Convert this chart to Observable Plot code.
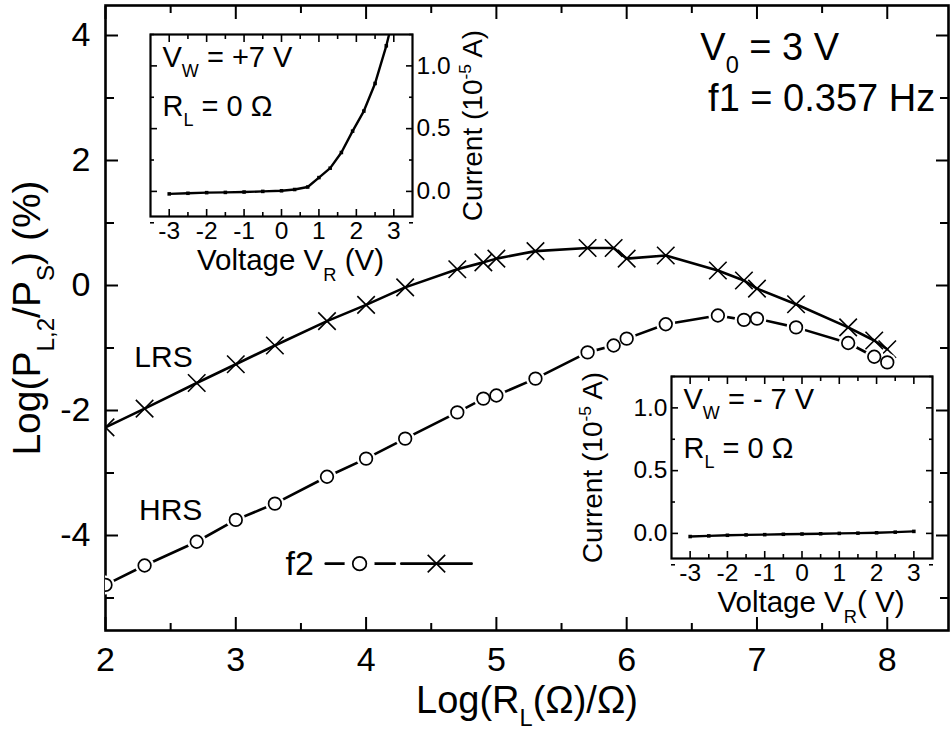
<!DOCTYPE html>
<html><head><meta charset="utf-8">
<script src="https://cdn.jsdelivr.net/npm/d3@7"></script>
<script src="https://cdn.jsdelivr.net/npm/@observablehq/plot@0.6"></script>
<style>
html,body{margin:0;padding:0;background:#fff;}
#chart{position:relative;width:951px;height:744px;overflow:hidden;}
#chart svg{position:absolute;overflow:visible;}
</style></head><body><div id="chart"></div>
<script>
// ---- main chart data: Log(R_L) vs Log(P_L,2/P_S)
const logRL = [2,2.3,2.7,3,3.3,3.7,4,4.3,4.7,4.9,5,5.3,5.7,5.9,6,6.3,6.7,6.9,7,7.3,7.7,7.9,8];
const lrsValues = [-2.27,-1.97,-1.56,-1.26,-0.96,-0.57,-0.31,-0.03,0.26,0.37,0.43,0.55,0.60,0.60,0.43,0.48,0.24,0.08,-0.05,-0.30,-0.67,-0.88,-1.02];
const hrsValues = [-4.79,-4.48,-4.10,-3.75,-3.49,-3.06,-2.77,-2.45,-2.03,-1.81,-1.76,-1.49,-1.07,-0.96,-0.85,-0.62,-0.48,-0.55,-0.53,-0.67,-0.92,-1.14,-1.23];
const xMajor = [2,3,4,5,6,7,8];
const xMinor = [2.5,3.5,4.5,5.5,6.5,7.5];
const yMajor = [-4,-2,0,2,4];
const yMinor = [-5,-3,-1,1,3];
// ---- inset 1 (V_W = +7 V)
const vPos = [-3,-2.5,-2,-1.5,-1,-0.5,0,0.35,0.7,1.0,1.3,1.6,1.9,2.2,2.5,2.8,3.0];
const iPos = [-0.02,-0.015,-0.01,-0.008,-0.005,0,0.005,0.015,0.035,0.11,0.185,0.31,0.48,0.64,0.86,1.16,1.40];
// ---- inset 2 (V_W = -7 V)
const vNeg = [-3,-2.5,-2,-1.5,-1,-0.5,0,0.5,1,1.5,2,2.5,3];
const iNeg = [-0.025,-0.02,-0.015,-0.012,-0.01,-0.007,-0.005,-0.003,0,0.002,0.005,0.01,0.016];
const insetXMajor = [-3,-2,-1,0,1,2,3];
const insetXMinor = [-2.5,-1.5,-0.5,0.5,1.5,2.5];
const insetYMajor = [0,0.5,1.0];
const insetYMinor = [-0.25,0.25,0.75,1.25];
// ---- annotations (data units)
const stateLabels = [{x:2.445,y:-1.15,t:"LRS"},{x:2.5,y:-3.6,t:"HRS"}];
const condLabels = [{x:6.565,y:3.81,t:"V_{0} = 3 V"},{x:6.625,y:2.99,t:"f1 = 0.357 Hz"}];
const legendText = {x:3.49, y:-4.45, t:"f2"};
const legendCircleSeg = [3.69, 4.22], legendCircleAt = 3.95;
const legendCrossSeg = [4.27, 4.81], legendCrossAt = 4.54;

const FONT = '"Liberation Sans", Arial, Helvetica, sans-serif';
const lrs = logRL.map((x,i)=>({x, y: lrsValues[i]}));
const hrs = logRL.map((x,i)=>({x, y: hrsValues[i]}));
const legY = legendText.y;
const legLines = [
  ...legendCircleSeg.map(x=>({x, y:legY, s:"c"})),
  ...legendCrossSeg.map(x=>({x, y:legY, s:"x"}))
];

const TW = 2.0; // tick width
const main = Plot.plot({
  width: 951, height: 744,
  marginLeft: 105, marginRight: 3, marginTop: 5, marginBottom: 114,
  x: {domain: [2, 8.47]},
  y: {domain: [-5.52, 4.48]},
  style: {fontFamily: FONT, color: "#000", background: "white"},
  marks: [
    Plot.axisX({anchor:"bottom", ticks:xMajor, tickSize:-13, fill:"none", strokeWidth:TW}),
    Plot.axisX({anchor:"bottom", ticks:xMinor, tickSize:-7, fill:"none", strokeWidth:TW}),
    Plot.axisX({anchor:"top", ticks:xMajor, tickSize:-13, fill:"none", strokeWidth:TW}),
    Plot.axisX({anchor:"top", ticks:xMinor, tickSize:-7, fill:"none", strokeWidth:TW}),
    Plot.axisY({anchor:"left", ticks:yMajor, tickSize:-13, fill:"none", strokeWidth:TW}),
    Plot.axisY({anchor:"left", ticks:yMinor, tickSize:-9, fill:"none", strokeWidth:TW}),
    Plot.axisY({anchor:"right", ticks:yMajor, tickSize:-13, fill:"none", strokeWidth:TW}),
    Plot.axisY({anchor:"right", ticks:yMinor, tickSize:-9, fill:"none", strokeWidth:TW}),
    Plot.axisX({anchor:"bottom", ticks:xMajor, tickSize:0, tickPadding:16, fontSize:34, label:null, tickFormat:d=>String(d)}),
    Plot.axisY({anchor:"left", ticks:yMajor, tickSize:0, tickPadding:15, fontSize:34, label:null, tickFormat:d=>String(d)}),
    Plot.frame({stroke:"#000", strokeWidth:2.6}),
    Plot.text(["Log(R_{L}(Ω)/Ω)"], {text:d=>d, frameAnchor:"bottom", lineAnchor:"middle", textAnchor:"middle", dy:70, fontSize:38}),
    Plot.text(["Log(P_{L,2}/P_{S}) (%)"], {text:d=>d, frameAnchor:"left", lineAnchor:"middle", textAnchor:"middle", dx:-78, rotate:-90, fontSize:39}),
    // curves
    Plot.line(lrs, {x:"x", y:"y", stroke:"#000", strokeWidth:2.6, clip:true}),
    Plot.dot(lrs, {x:"x", y:"y", symbol:"times", r:8, stroke:"#000", strokeWidth:1.6, clip:true}),
    Plot.line(hrs, {x:"x", y:"y", stroke:"#000", strokeWidth:2.6, clip:true}),
    Plot.dot(hrs, {x:"x", y:"y", r:9.5, fill:"white", stroke:null, clip:true}),
    Plot.dot(hrs, {x:"x", y:"y", r:6.3, fill:"white", stroke:"#000", strokeWidth:1.7, clip:true}),
    // labels
    Plot.text(stateLabels, {x:"x", y:"y", text:"t", fontSize:30}),
    Plot.text(condLabels, {x:"x", y:"y", text:"t", fontSize:38, textAnchor:"start"}),
    // legend
    Plot.text([legendText], {x:"x", y:"y", text:"t", fontSize:34}),
    Plot.line(legLines, {x:"x", y:"y", z:"s", stroke:"#000", strokeWidth:2.6}),
    Plot.dot([{x:legendCircleAt, y:legY}], {x:"x", y:"y", r:15, fill:"white", stroke:null}),
    Plot.dot([{x:legendCircleAt, y:legY}], {x:"x", y:"y", r:6.8, fill:"white", stroke:"#000", strokeWidth:1.7}),
    Plot.dot([{x:legendCrossAt, y:legY}], {x:"x", y:"y", symbol:"times", r:8, stroke:"#000", strokeWidth:1.6})
  ]
});

function inset({vs, is, label1, label2, xTitle, yAnchor, yTitleDx, width, marginLeft, marginRight}) {
  const data = vs.map((v,i)=>({v, c: is[i]}));
  return Plot.plot({
    width, height: 262,
    marginLeft, marginRight, marginTop: 6, marginBottom: 74,
    x: {domain: [-3.5, 3.5]},
    y: {domain: [-0.2, 1.25]},
    style: {fontFamily: FONT, color: "#000", background: "transparent"},
    marks: [
      Plot.axisX({anchor:"bottom", ticks:insetXMajor, tickSize:-7, fill:"none", strokeWidth:1.6}),
      Plot.axisX({anchor:"bottom", ticks:insetXMinor, tickSize:-4, fill:"none", strokeWidth:1.6}),
      Plot.axisX({anchor:"top", ticks:insetXMajor, tickSize:-7, fill:"none", strokeWidth:1.6}),
      Plot.axisX({anchor:"top", ticks:insetXMinor, tickSize:-4, fill:"none", strokeWidth:1.6}),
      Plot.axisY({anchor:"left", ticks:insetYMajor, tickSize:-7, fill:"none", strokeWidth:1.6}),
      Plot.axisY({anchor:"left", ticks:insetYMinor, tickSize:-4, fill:"none", strokeWidth:1.6}),
      Plot.axisY({anchor:"right", ticks:insetYMajor, tickSize:-7, fill:"none", strokeWidth:1.6}),
      Plot.axisY({anchor:"right", ticks:insetYMinor, tickSize:-4, fill:"none", strokeWidth:1.6}),
      Plot.axisX({anchor:"bottom", ticks:insetXMajor, tickSize:0, tickPadding:5, fontSize:24.5, label:null, tickFormat:d=>String(d)}),
      Plot.axisY({anchor:yAnchor, ticks:insetYMajor, tickSize:0, tickPadding:4, fontSize:24.5, label:null, tickFormat:d3.format(".1f")}),
      Plot.frame({stroke:"#000", strokeWidth:2.2}),
      Plot.line(data, {x:"v", y:"c", stroke:"#000", strokeWidth:2.4, clip:true}),
      Plot.dot(data, {x:"v", y:"c", symbol:"square", r:2, fill:"#000", stroke:null, clip:true}),
      Plot.text([label1], {text:d=>d, frameAnchor:"top-left", lineAnchor:"middle", dx:12, dy:23, textAnchor:"start", fontSize:29}),
      Plot.text([label2], {text:d=>d, frameAnchor:"top-left", lineAnchor:"middle", dx:12, dy:72, textAnchor:"start", fontSize:29}),
      Plot.text([xTitle], {text:d=>d, frameAnchor:"bottom", lineAnchor:"middle", textAnchor:"middle", dy:44, dx:9, fontSize:29.5}),
      Plot.text(["Current (10^{-5} A)"], {text:d=>d, frameAnchor:yAnchor, lineAnchor:"middle", textAnchor:"middle", dx:yTitleDx, rotate:-90, fontSize:28})
    ]
  });
}

const inset1 = inset({vs:vPos, is:iPos, label1:"V_{W} = +7 V", label2:"R_{L} = 0 Ω", xTitle:"Voltage V_{R} (V)",
  yAnchor:"right", yTitleDx:61, width:345, marginLeft:10, marginRight:73});
const inset2 = inset({vs:vNeg, is:iNeg, label1:"V_{W} = - 7 V", label2:"R_{L} = 0 Ω", xTitle:"Voltage V_{R}( V)",
  yAnchor:"left", yTitleDx:-78, width:391, marginLeft:111, marginRight:19});

const chart = document.getElementById("chart");
main.style.left = "0px"; main.style.top = "0px";
inset1.style.left = "140px"; inset1.style.top = "28px";
inset2.style.left = "560px"; inset2.style.top = "370px";
chart.appendChild(main); chart.appendChild(inset1); chart.appendChild(inset2);

function richText(root) {
  const ns = "http://www.w3.org/2000/svg";
  root.querySelectorAll("text").forEach(el => {
    const s = el.textContent;
    if (!/[_^]\{[^}]*\}/.test(s)) return;
    const fs = parseFloat(getComputedStyle(el).fontSize) || 16;
    while (el.firstChild) el.removeChild(el.firstChild);
    let shift = 0;
    const add = (txt, type) => {
      if (!txt) return;
      const t = document.createElementNS(ns, "tspan");
      const target = type === "_" ? 0.36*fs : type === "^" ? -0.42*fs : 0;
      if (target !== shift) t.setAttribute("dy", target - shift);
      shift = target;
      if (type) t.setAttribute("font-size", (fs*0.62).toFixed(1));
      t.textContent = txt;
      el.appendChild(t);
    };
    const re = /([_^])\{([^}]*)\}/g;
    let last = 0, m;
    while ((m = re.exec(s))) {
      add(s.slice(last, m.index), null);
      add(m[2], m[1]);
      last = re.lastIndex;
    }
    add(s.slice(last), null);
  });
}
[main, inset1, inset2].forEach(richText);
</script></body></html>
